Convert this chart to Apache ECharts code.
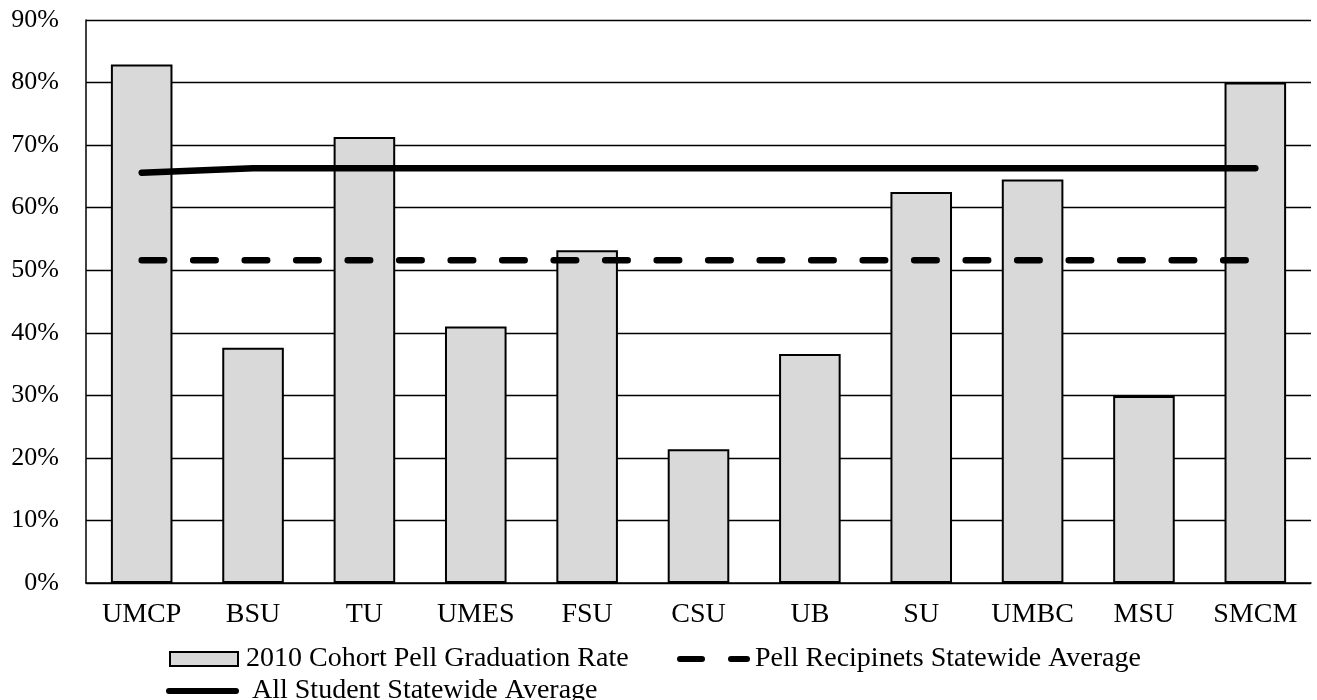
<!DOCTYPE html>
<html>
<head>
<meta charset="utf-8">
<script src="https://cdn.jsdelivr.net/npm/echarts@6/dist/echarts.min.js"></script>
<style>
html,body{margin:0;padding:0;background:#fff;}
#chart{width:1317px;height:700px;}
</style>
</head>
<body>
<div id="chart"></div>
<script>
const categories = ['UMCP','BSU','TU','UMES','FSU','CSU','UB','SU','UMBC','MSU','SMCM'];
const pellRates = [82.9, 37.6, 71.3, 41.0, 53.2, 21.4, 36.6, 62.5, 64.5, 29.9, 80.0];
const pellStatewide = [51.6, 51.6, 51.6, 51.6, 51.6, 51.6, 51.6, 51.6, 51.6, 51.6, 51.6];
const allStatewide = [65.6, 66.3, 66.3, 66.3, 66.3, 66.3, 66.3, 66.3, 66.3, 66.3, 66.3];
const yTicks = [0, 10, 20, 30, 40, 50, 60, 70, 80, 90];

const names = ['2010 Cohort Pell Graduation Rate', 'Pell Recipinets Statewide Average', 'All Student Statewide Average'];
const FONT = '"Liberation Serif", "Times New Roman", serif';
const chart = echarts.init(document.getElementById('chart'), null, {renderer: 'canvas'});
const legendText = {fontFamily: FONT, fontSize: 28, color: '#000'};
const dashIcon = 'path://M3,0H25A3,3 0 0 1 25,6H3A3,3 0 0 1 3,0Z M54,0H70A3,3 0 0 1 70,6H54A3,3 0 0 1 54,0Z';
const solidIcon = 'path://M3,0H70A3,3 0 0 1 70,6H3A3,3 0 0 1 3,0Z';
chart.setOption({
  animation: false,
  backgroundColor: '#fff',
  textStyle: {fontFamily: FONT, color: '#000'},
  grid: {left: 86, right: 6, top: 20, bottom: 117, containLabel: false},
  legend: [
    {data: [{name: names[0], icon: 'rect'}], left: 164, top: 640, itemWidth: 68, itemHeight: 14,
     textStyle: Object.assign({padding: [0,0,0,3]}, legendText)},
    {data: [{name: names[1], icon: dashIcon}], left: 672, top: 640, itemWidth: 73, itemHeight: 6,
     textStyle: Object.assign({padding: [0,0,0,0]}, legendText)},
    {data: [{name: names[2], icon: solidIcon}], left: 161, top: 672, itemWidth: 73, itemHeight: 6,
     textStyle: Object.assign({padding: [0,0,0,8]}, legendText)}
  ],
  xAxis: {
    type: 'category', data: categories,
    axisLine: {lineStyle: {color: '#000', width: 1.5}},
    axisTick: {show: false},
    axisLabel: {fontFamily: FONT, fontSize: 28, color: '#000', margin: 18, interval: 0},
    splitLine: {show: false}
  },
  yAxis: {
    type: 'value', min: 0, max: 90, interval: 10,
    axisLine: {show: true, lineStyle: {color: '#000', width: 1.5}},
    axisTick: {show: false},
    axisLabel: {fontFamily: FONT, fontSize: 26, color: '#000', margin: 27, formatter: v => v + '%'},
    splitLine: {lineStyle: {color: '#000', width: 1.3}}
  },
  series: [
    {name: names[0], type: 'bar', data: pellRates, barWidth: '55.3%',
     itemStyle: {color: '#D9D9D9', borderColor: '#000', borderWidth: 2}, z: 2},
    {name: names[1], type: 'line', data: pellStatewide, symbol: 'none', z: 4,
     itemStyle: {color: '#000'},
     lineStyle: {color: '#000', width: 6.5, type: [22.5, 29], cap: 'round'}},
    {name: names[2], type: 'line', data: allStatewide, symbol: 'none', z: 4,
     itemStyle: {color: '#000'},
     lineStyle: {color: '#000', width: 6.5, type: 'solid', cap: 'round', join: 'round'}}
  ]
});
</script>
</body>
</html>
